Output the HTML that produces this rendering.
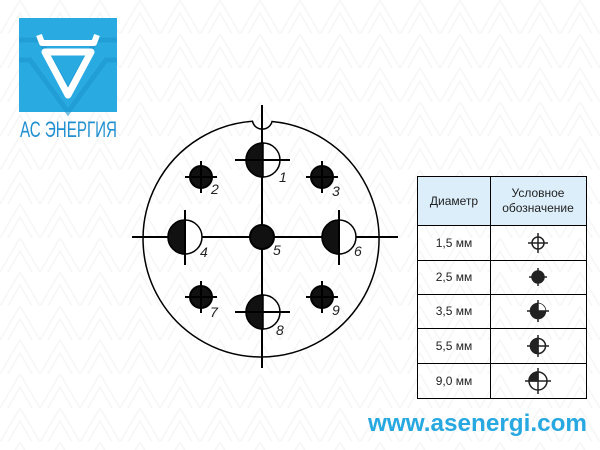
<!DOCTYPE html>
<html><head><meta charset="utf-8"><style>
html,body{margin:0;padding:0;background:#fff;width:600px;height:450px;overflow:hidden}
</style></head><body>
<svg width="600" height="450" viewBox="0 0 600 450" xmlns="http://www.w3.org/2000/svg" font-family="Liberation Sans, sans-serif">
<defs>
<pattern id="bg" width="40" height="34" patternUnits="userSpaceOnUse">
<path d="M0 34 L20 0 L40 34 M8 34 L20 13 L32 34" fill="none" stroke="#f6f6f6" stroke-width="1.5"/>
</pattern>
</defs>
<rect width="600" height="450" fill="url(#bg)"/>
<!-- logo -->
<rect x="19" y="18" width="98" height="94" fill="#29abe2"/>
<path d="M19 40 L40 40 L68 90 L96 40 L117 40 M19 60 L30 60 L68 112 L106 60 L117 60" stroke="#1e96cf" stroke-width="5" fill="none" opacity="0.6"/>
<path d="M39 35 L42 43 L94 43 L97 35" stroke="#fff" stroke-width="6" fill="none" stroke-linejoin="round"/>
<path d="M45 52 L91 52 L68 95 Z" stroke="#fff" stroke-width="7" fill="none" stroke-linejoin="round"/>
<text x="20" y="137" font-size="22" fill="#1f8fd0" textLength="97" lengthAdjust="spacingAndGlyphs">АС ЭНЕРГИЯ</text>
<!-- connector -->
<path d="M252.5 121.3 A118 118 0 1 0 272 121.5 A10 10 0 0 1 252.5 121.3 Z" fill="none" stroke="#000" stroke-width="1.5"/>
<g stroke="#000" stroke-width="2">
<line x1="132" y1="237" x2="398" y2="237"/>
<line x1="262" y1="105" x2="262" y2="368"/>
</g>
<g stroke="#000" stroke-width="2">
<g fill="#111">
<circle cx="201" cy="177" r="11"/><circle cx="322" cy="177" r="11"/>
<circle cx="201" cy="297" r="11"/><circle cx="322" cy="297" r="11"/>
<circle cx="262" cy="237" r="12"/>
</g>
<path d="M185 177h32M201 161v32M306 177h32M322 161v32M185 297h32M201 281v32M306 297h32M322 281v32"/>
<g stroke-width="1.5">
<circle cx="263" cy="160" r="17" fill="#fff"/>
<path d="M263 143 A17 17 0 0 0 263 177 Z" fill="#111"/>
<circle cx="185" cy="237" r="17" fill="#fff"/>
<path d="M185 220 A17 17 0 0 0 185 254 Z" fill="#111"/>
<circle cx="339" cy="237" r="17" fill="#fff"/>
<path d="M339 220 A17 17 0 0 0 339 254 Z" fill="#111"/>
<circle cx="263" cy="312" r="17" fill="#fff"/>
<path d="M263 295 A17 17 0 0 0 263 329 Z" fill="#111"/>
</g>
<path d="M235 160h55M185 210v55M339 210v55M235 312h55"/>
</g>
<g font-size="14" font-style="italic" fill="#222">
<text x="279" y="182">1</text><text x="211" y="194">2</text><text x="332" y="196">3</text>
<text x="200" y="257">4</text><text x="273" y="255">5</text><text x="354" y="256">6</text>
<text x="210" y="317">7</text><text x="276" y="335">8</text><text x="332" y="315">9</text>
</g>
<!-- table -->
<rect x="417" y="176" width="169" height="49" fill="#dbeefa"/>
<g stroke="#000" stroke-width="1" fill="none">
<rect x="417.5" y="176.5" width="169" height="222"/>
<line x1="490.5" y1="176" x2="490.5" y2="399"/>
<line x1="417" y1="225.5" x2="586" y2="225.5"/>
<line x1="417" y1="260.5" x2="586" y2="260.5"/>
<line x1="417" y1="294.5" x2="586" y2="294.5"/>
<line x1="417" y1="328.5" x2="586" y2="328.5"/>
<line x1="417" y1="363.5" x2="586" y2="363.5"/>
</g>
<g font-size="12" fill="#222" text-anchor="middle">
<text x="454" y="205">Диаметр</text>
<text x="538" y="197">Условное</text>
<text x="538" y="212">обозначение</text>
<text x="454" y="247">1,5 мм</text>
<text x="454" y="281">2,5 мм</text>
<text x="454" y="315">3,5 мм</text>
<text x="454" y="350">5,5 мм</text>
<text x="454" y="385">9,0 мм</text>
</g>
<g stroke="#222" stroke-width="1.5">
<circle cx="538" cy="243" r="6" fill="#fff"/>
<path d="M528 243h20M538 233v20"/>
<circle cx="538" cy="277" r="6" fill="#222"/>
<path d="M529 277h18M538 268v18"/>
<circle cx="538" cy="311" r="7.5" fill="#222"/>
<path d="M538 311 V303.5 A7.5 7.5 0 0 1 545.5 311 Z" fill="#fff" stroke="none"/>
<path d="M527 311h22M538 300v22"/>
<circle cx="538" cy="346" r="7.5" fill="#fff"/>
<path d="M538 338.5 A7.5 7.5 0 0 0 538 353.5 Z" fill="#222"/>
<path d="M527 346h22M538 335v22"/>
<circle cx="538" cy="381" r="9" fill="#fff"/>
<path d="M538 372 A9 9 0 0 0 529 381 H538 Z" fill="#222"/>
<path d="M525 381h26M538 368v26"/>
</g>
<text x="368" y="431" font-size="24" font-weight="bold" fill="#27a8e0" textLength="219" lengthAdjust="spacingAndGlyphs">www.asenergi.com</text>
</svg>
</body></html>
